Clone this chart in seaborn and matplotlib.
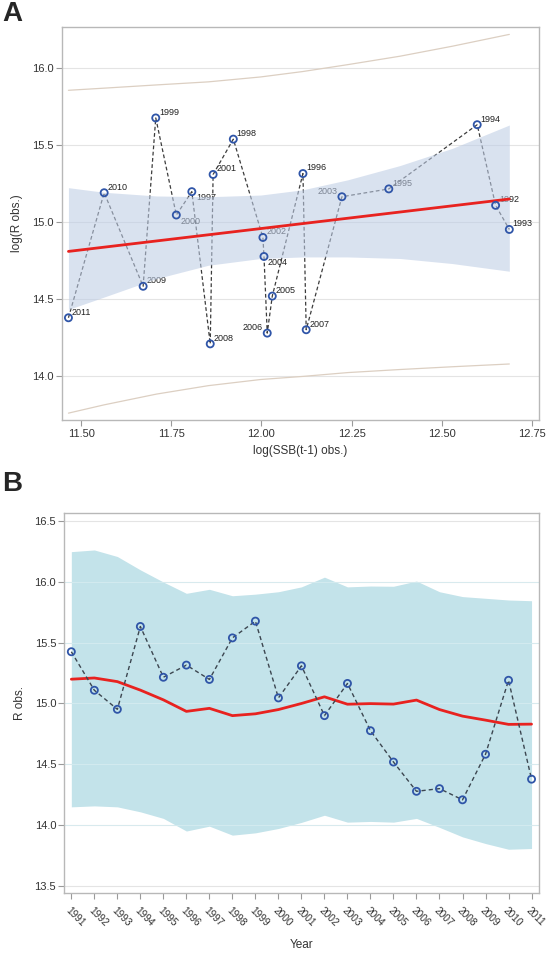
import numpy as np
import pandas as pd
import matplotlib
matplotlib.use('Agg')
import matplotlib.pyplot as plt
import seaborn as sns

# observed log recruitment by year
years = list(range(1991, 2012))
log_r = [15.426, 15.109, 14.952, 15.634, 15.216, 15.316, 15.198, 15.540, 15.678, 15.046,
         15.310, 14.900, 15.165, 14.776, 14.518, 14.277, 14.299, 14.207, 14.582, 15.191, 14.377]

# log SSB of previous year, for recruitment years 1992-2011
log_ssb_prev = [12.649, 12.687, 12.598, 12.353, 12.115, 11.807, 11.922, 11.707, 11.764, 11.866,
                12.004, 12.223, 12.007, 12.030, 12.016, 12.124, 11.858, 11.672, 11.564, 11.465]

# panel A regression line, confidence band and prediction limits
fit_x = [11.465, 12.687]
fit_y = [14.809, 15.150]
band_x = [11.465, 11.564, 11.709, 11.853, 11.998, 12.114, 12.239, 12.384, 12.529, 12.687]
ci_upper = [15.224, 15.194, 15.170, 15.165, 15.176, 15.210, 15.275, 15.368, 15.480, 15.632]
ci_lower = [14.431, 14.512, 14.632, 14.719, 14.763, 14.773, 14.773, 14.763, 14.730, 14.680]
pi_upper = [15.858, 15.872, 15.893, 15.913, 15.945, 15.980, 16.025, 16.080, 16.145, 16.222]
pi_lower = [13.756, 13.810, 13.880, 13.935, 13.975, 13.995, 14.020, 14.040, 14.058, 14.076]

# panel B predicted recruitment and band
pred_b = [15.200, 15.210, 15.180, 15.110, 15.030, 14.935, 14.960, 14.900, 14.915, 14.950,
          15.000, 15.055, 14.994, 14.999, 14.995, 15.028, 14.950, 14.896, 14.863, 14.828, 14.830]
upper_b = [16.250, 16.264, 16.210, 16.100, 16.000, 15.907, 15.940, 15.887, 15.900, 15.920,
           15.960, 16.040, 15.960, 15.967, 15.965, 16.008, 15.920, 15.880, 15.866, 15.852, 15.846]
lower_b = [14.149, 14.157, 14.149, 14.108, 14.054, 13.950, 13.990, 13.916, 13.935, 13.971,
           14.021, 14.080, 14.023, 14.029, 14.023, 14.054, 13.980, 13.902, 13.847, 13.800, 13.806]

# label placement: (dx, dy) in points, alignment
label_pos = {1997: (3, -4.5, 'left'), 2000: (3, -4.5, 'left'), 2004: (2.5, -4.5, 'left'),
             2003: (-3, 3.8, 'right'), 2006: (-3, 3.8, 'right')}

sns.set_style('white')
plt.rcParams['font.family'] = ['Liberation Sans', 'DejaVu Sans']

fig = plt.figure(figsize=(5.46, 9.55), dpi=100)
axA = fig.add_axes([0.1128, 0.560, 0.987 - 0.1128, 0.9717 - 0.560])
axB = fig.add_axes([0.118, 0.0652, 0.987 - 0.118, 0.4628 - 0.0652])

grid_c = '#e4e4e4'
frame_c = '#b8b8b8'
text_c = '#333333'
marker_c = '#2f55a8'
red_c = '#e8221f'

# ---------- panel A ----------
dfA = pd.DataFrame({'year': years[1:], 'ssb': log_ssb_prev, 'r': log_r[1:]})
for yv in [14.0, 14.5, 15.0, 15.5, 16.0]:
    axA.axhline(yv, color=grid_c, lw=0.8, zorder=0)
sns.lineplot(data=dfA, x='ssb', y='r', sort=True, estimator=None, color='#3c3c3c',
             lw=0.9, dashes=False, linestyle=(0, (3, 2)), ax=axA, zorder=2)
for _, row in dfA.iterrows():
    dx, dy, ha = label_pos.get(int(row['year']), (2.5, 4, 'left'))
    axA.annotate(str(int(row['year'])), (row['ssb'], row['r']), xytext=(dx, dy),
                 textcoords='offset points', ha=ha, va='center', fontsize=6.5,
                 color='#222222', zorder=2)
axA.fill_between(band_x, ci_lower, ci_upper, color='#becde5', alpha=0.58, lw=0, zorder=3)
sns.lineplot(x=band_x, y=pi_upper, color='#dccfc2', lw=0.9, ax=axA, zorder=3)
sns.lineplot(x=band_x, y=pi_lower, color='#dccfc2', lw=0.9, ax=axA, zorder=3)
sns.lineplot(x=fit_x, y=fit_y, color=red_c, lw=2.0, ax=axA, zorder=4)
sns.scatterplot(data=dfA, x='ssb', y='r', marker='o', s=26, facecolor='none',
                edgecolor=marker_c, linewidth=1.3, ax=axA, zorder=5)
axA.set_xlim(11.446, 12.769)
axA.set_ylim(13.71, 16.27)
axA.set_xticks([11.50, 11.75, 12.00, 12.25, 12.50, 12.75])
axA.set_xticklabels(['11.50', '11.75', '12.00', '12.25', '12.50', '12.75'])
axA.set_yticks([14.0, 14.5, 15.0, 15.5, 16.0])
axA.set_yticklabels(['14.0', '14.5', '15.0', '15.5', '16.0'])
axA.set_xlabel('log(SSB(t-1) obs.)', fontsize=8.5, color=text_c, labelpad=5)
axA.set_ylabel('log(R obs.)', fontsize=8.5, color=text_c, labelpad=6)

# ---------- panel B ----------
dfB = pd.DataFrame({'year': years, 'r': log_r, 'pred': pred_b})
for yv in [13.5, 14.0, 14.5, 15.0, 15.5, 16.0, 16.5]:
    axB.axhline(yv, color=grid_c, lw=0.8, zorder=0)
axB.fill_between(years, lower_b, upper_b, color='#c3e3ea', lw=0, zorder=1)
for yv in [14.0, 14.5, 15.0, 15.5, 16.0]:
    axB.axhline(yv, color='#d6ecf0', lw=0.6, zorder=1.5)
sns.lineplot(data=dfB, x='year', y='pred', color=red_c, lw=2.0, ax=axB, zorder=3)
sns.lineplot(data=dfB, x='year', y='r', color='#3c4650', lw=1.0, linestyle=(0, (3, 2.2)),
             ax=axB, zorder=4)
sns.scatterplot(data=dfB, x='year', y='r', marker='o', s=26, facecolor='none',
                edgecolor=marker_c, linewidth=1.3, ax=axB, zorder=5)
axB.set_xlim(1990.70, 2011.32)
axB.set_ylim(13.442, 16.568)
axB.set_xticks(years)
axB.set_xticklabels([str(y) for y in years], rotation=-45, ha='left', va='top',
                    rotation_mode='anchor', fontsize=7.3)
axB.set_yticks([13.5, 14.0, 14.5, 15.0, 15.5, 16.0, 16.5])
axB.set_yticklabels(['13.5', '14.0', '14.5', '15.0', '15.5', '16.0', '16.5'])
axB.set_xlabel('Year', fontsize=8.5, color=text_c, labelpad=8)
axB.set_ylabel('R obs.', fontsize=8.5, color=text_c, labelpad=6)

for ax in (axA, axB):
    for sp in ax.spines.values():
        sp.set_visible(True)
        sp.set_color(frame_c)
        sp.set_linewidth(1.0)
    ax.tick_params(axis='both', which='both', direction='out', length=4, width=0.8,
                   color='#9a9a9a', labelcolor=text_c, pad=2, bottom=True, left=True)
    ax.tick_params(axis='y', labelsize=8)
    ax.grid(False)
axA.tick_params(axis='x', labelsize=8)
axB.tick_params(axis='x', pad=5)

fig.text(0.004, 0.999, 'A', fontsize=20, fontweight='bold', ha='left', va='top')
fig.text(0.004, 0.507, 'B', fontsize=20, fontweight='bold', ha='left', va='top')

fig.savefig('out.png', dpi=100)
